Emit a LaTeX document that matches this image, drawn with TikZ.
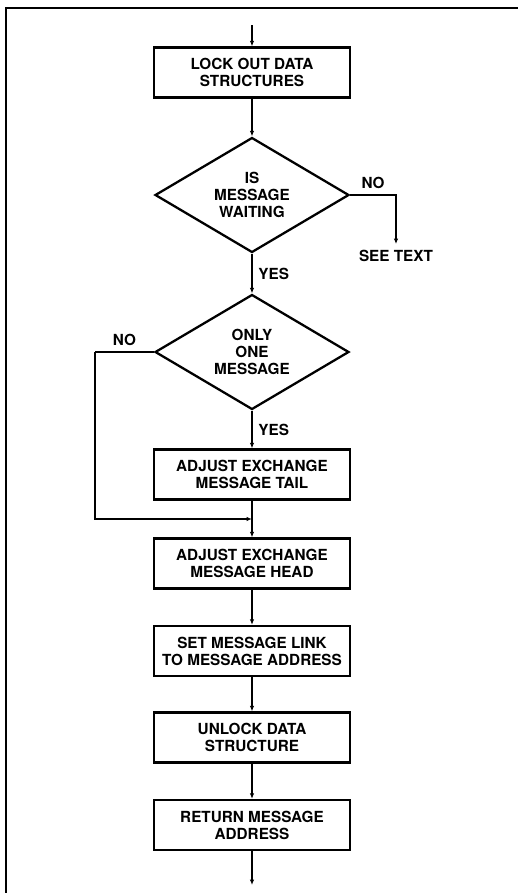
\documentclass[tikz,border=0pt]{standalone}
\usepackage{fontspec}
\setmainfont{TeX Gyre Heros}
\usetikzlibrary{arrows.meta,shapes.geometric,calc}

\begin{document}
\begin{tikzpicture}[x=0.02cm, y=-0.02cm,
    every node/.style={font=\bfseries\fontsize{8.7}{9.6}\selectfont, align=center},
    stepbox/.style={draw, line width=1.3pt, minimum width=3.92cm, minimum height=1.0cm, inner sep=0pt},
    test/.style={draw, diamond, line width=1.3pt, aspect=1.67, minimum width=3.88cm, minimum height=2.3cm, inner sep=0pt},
    arr/.style={line width=0.6pt, -{Latex[length=1.1mm, width=0.9mm]}}]
    \useasboundingbox (0,0) rectangle (518,893);

    % frame
    \draw[line width=1pt] (6,893) -- (6,8) -- (518,8);

    \coordinate (start) at (252,25);
    \coordinate (stop) at (252,885);

    \node[stepbox] (lock) at (252,72.5) {LOCK OUT DATA\\STRUCTURES};
    \node[test] (waiting) at (252,195) {IS\\MESSAGE\\WAITING};
    \node (seetext) at (396,256) {SEE TEXT};
    \node[test] (onlyone) at (252,352) {ONLY\\ONE\\MESSAGE};
    \node[stepbox] (tail) at (252,474.5) {ADJUST EXCHANGE\\MESSAGE TAIL};
    \node[stepbox] (head) at (252,563.5) {ADJUST EXCHANGE\\MESSAGE HEAD};
    \node[stepbox] (link) at (252,651) {SET MESSAGE LINK\\TO MESSAGE ADDRESS};
    \node[stepbox] (unlock) at (252,737.5) {UNLOCK DATA\\STRUCTURE};
    \node[stepbox] (ret) at (252,825) {RETURN MESSAGE\\ADDRESS};

    \coordinate (nocorner) at (95,352);
    \coordinate (merge) at ($(tail.south)!0.5!(head.north)$);

    \draw[arr] (start) -- (lock);
    \draw[arr] (lock) -- (waiting);
    \draw[arr] (waiting.east) -| node[pos=0.25, above] {NO} (seetext.north);
    \draw[arr] (waiting.south) -- node[right] {YES} (onlyone.north);
    \draw[arr] (onlyone.south) -- node[right] {YES} (tail.north);
    \draw[line width=0.6pt] (onlyone.west) -- node[above] {NO} (nocorner);
    \draw[arr] (nocorner) |- (merge);
    \draw[arr] (tail) -- (head);
    \draw[arr] (head) -- (link);
    \draw[arr] (link) -- (unlock);
    \draw[arr] (unlock) -- (ret);
    \draw[arr] (ret) -- (stop);
\end{tikzpicture}
\end{document}
